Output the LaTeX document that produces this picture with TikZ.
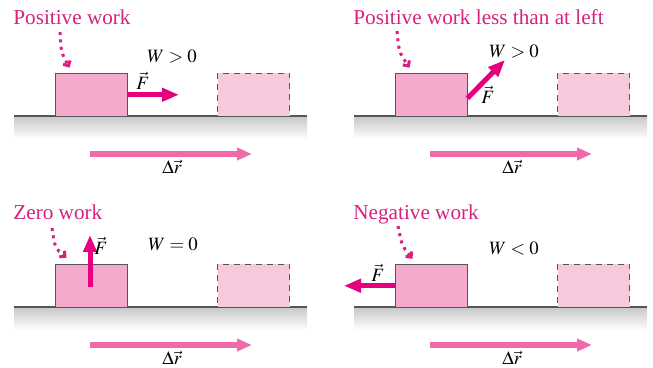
\documentclass[tikz,border=0pt]{standalone}
\usepackage{mathptmx}
\usepackage[no-math]{fontspec}
\setmainfont{Liberation Serif}
\usetikzlibrary{arrows.meta,calc}
\definecolor{worktext}{HTML}{D6217F}
\definecolor{blockpink}{HTML}{F4AACC}
\definecolor{ghostpink}{HTML}{F7C9DD}
\definecolor{forcemag}{HTML}{E6007E}
\definecolor{disppink}{HTML}{EF6AA8}
\definecolor{edgegray}{HTML}{555555}

\begin{document}
\begin{tikzpicture}[x=0.5pt, y=-0.5pt,
  block/.style={draw=edgegray, line width=0.5pt, fill=blockpink, minimum width=36pt, minimum height=21.5pt, inner sep=0pt},
  ghost/.style={block, fill=ghostpink, dash pattern=on 3pt off 2.5pt},
  force/.style={draw=forcemag, line width=2.5pt, -{Triangle[length=8.5pt,width=6.5pt]}},
  disp/.style={draw=disppink, line width=2.8pt, -{Triangle[length=7.5pt,width=6pt]}},
  pointer/.style={draw=worktext, line width=1.5pt, dash pattern=on 1.5pt off 2.2pt, -{Straight Barb[length=2pt,width=4pt]}},
  title/.style={text=worktext, font=\fontsize{10.6}{12}\selectfont, anchor=base west, inner sep=0pt},
  qty/.style={font=\fontsize{9.4}{11}\selectfont, inner sep=1pt}]
  \useasboundingbox (0,0) rectangle (653,368);
  % floor, block, where the block ends up, and its displacement
  \foreach \ox/\oy/\i in {0/0/1, 340/0/2, 0/191/3, 340/191/4} {
    \shade[top color=black!22, bottom color=white] (\ox+14,\oy+116) rectangle (\ox+307,\oy+139);
    \draw[edgegray, line width=0.8pt] (\ox+14,\oy+116) -- (\ox+307,\oy+116);
    \node[block] (block\i) at (\ox+91,\oy+94.75) {};
    \node[ghost] (ghost\i) at (\ox+253.5,\oy+94.75) {};
    \coordinate (dtail\i) at (\ox+90,\oy+154);
    \coordinate (dhead\i) at (\ox+252,\oy+154);
    \draw[disp] (dtail\i) -- (dhead\i);
    \node[qty] (dr\i) at (\ox+172,\oy+167) {$\Delta\vec r$};
  }

  % force along the motion
  \node[title] (title1) at (13,25) {Positive work};
  \coordinate (tail1) at (60,32);
  \draw[pointer] (tail1) .. controls (61,52) .. ([shift={(15,-5)}]block1.north west);
  \coordinate (ftip1) at (179,94.75);
  \draw[force] (block1.east) -- (ftip1);
  \node[qty] (flab1) at (143,81) {$\vec F$};
  \node[qty] (work1) at (172,57) {$W > 0$};

  % force at an angle
  \node[title] (title2) at (353,25) {Positive work less than at left};
  \coordinate (tail2) at (397,31);
  \draw[pointer] (tail2) .. controls (399,52) .. ([shift={(15,-5)}]block2.north west);
  \coordinate (fbase2) at ($(block2.east)+(0,3.5)$);
  \coordinate (ftip2) at (505,60);
  \draw[force] (fbase2) -- (ftip2);
  \node[qty] (flab2) at (488,95) {$\vec F$};
  \node[qty] (work2) at (514,52) {$W > 0$};

  % force across the motion
  \node[title] (title3) at (13,220) {Zero work};
  \coordinate (tail3) at (52,228);
  \draw[pointer] (tail3) .. controls (55,248) .. ([shift={(12,-6)}]block3.north west);
  \coordinate (fbase3) at ($(block3.center)+(-1,1)$);
  \coordinate (ftip3) at (90,235);
  \draw[force] (fbase3) -- (ftip3);
  \node[qty] (flab3) at (101,246) {$\vec F$};
  \node[qty] (work3) at (173,244) {$W = 0$};

  % force against the motion
  \node[title] (title4) at (353,220) {Negative work};
  \coordinate (tail4) at (398,226);
  \draw[pointer] (tail4) .. controls (402,246) .. ([shift={(18,-5)}]block4.north west);
  \coordinate (ftip4) at (344,285.75);
  \draw[force] (block4.west) -- (ftip4);
  \node[qty] (flab4) at (378,273) {$\vec F$};
  \node[qty] (work4) at (514,249) {$W < 0$};
\end{tikzpicture}
\end{document}
